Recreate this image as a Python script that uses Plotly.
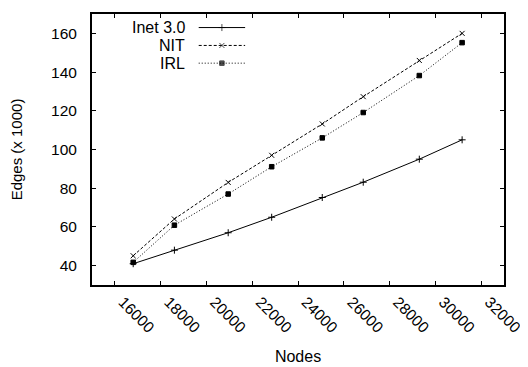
import plotly.graph_objects as go

nodes = [16800, 18600, 20950, 22850, 25060, 26850, 29300, 31170]
inet = [41, 48, 57, 65, 75.2, 83.1, 95, 105]
nit = [45.1, 64.1, 83, 97, 113.2, 127.3, 146, 160]
irl = [41.7, 60.9, 77, 91.1, 106, 119.1, 138.2, 155.2]

names = ["Inet 3.0", "NIT", "IRL"]
series = [inet, nit, irl]
dashes = ["solid", "3px,2px", "1px,2px"]
symbols = ["cross-thin-open", "x-thin-open", "square"]
msizes = [5, 5, 4.5]

x_ticks = list(range(16000, 32001, 2000))
y_ticks = list(range(40, 161, 20))

font = "Liberation Sans, Arial, sans-serif"
fig = go.Figure()

for name, ys, d, s, ms in zip(names, series, dashes, symbols, msizes):
    fig.add_trace(go.Scatter(
        x=nodes, y=ys, mode="lines+markers", name=name, showlegend=False,
        line=dict(color="black", width=1, dash=d),
        marker=dict(symbol=s, size=ms, color="black",
                    line=dict(color="black", width=1)),
    ))

# custom legend (text left, sample right) on a hidden overlay axis
leg_y = [0.950, 0.884, 0.8186]
for name, yy, d, s, ms in zip(names, leg_y, dashes, symbols, msizes):
    fig.add_trace(go.Scatter(
        x=[0.259, 0.3153, 0.3717], y=[yy, yy, yy], xaxis="x2", yaxis="y2",
        mode="lines+markers", showlegend=False, hoverinfo="skip",
        line=dict(color="black", width=1, dash=d),
        marker=dict(symbol=s, size=[0, ms, 0], color="black",
                    line=dict(color="black", width=1)),
    ))
    fig.add_annotation(x=0.2302, y=yy, xref="x2", yref="y2", text=name,
                       showarrow=False, xanchor="right", yanchor="middle",
                       font=dict(family=font, size=16, color="black"))

axis_common = dict(
    showline=True, linecolor="black", linewidth=2, mirror="ticks",
    ticks="inside", ticklen=4, tickwidth=1, tickcolor="black",
    showgrid=False, zeroline=False,
    tickfont=dict(family=font, size=15.5, color="black"),
)

fig.update_layout(
    width=520, height=359,
    margin=dict(l=84, r=19, t=4, b=81),
    paper_bgcolor="white", plot_bgcolor="white",
    xaxis=dict(range=[15000, 33000], tickvals=x_ticks,
               ticktext=[str(v) for v in x_ticks], tickangle=45,
               ticklabelshift=8, ticklabeloverflow="allow",
               title=dict(text="Nodes", font=dict(family=font, size=16, color="black"), standoff=16),
               **axis_common),
    yaxis=dict(range=[30, 170], tickvals=y_ticks,
               ticktext=[str(v) for v in y_ticks],
               title=dict(text="Edges (x 1000)", font=dict(family=font, size=15, color="black"), standoff=29),
               ticklabelstandoff=10,
               **axis_common),
    xaxis2=dict(range=[0, 1], overlaying="x", visible=False, fixedrange=True),
    yaxis2=dict(range=[0, 1], overlaying="y", visible=False, fixedrange=True),
)

fig.write_html("out.html")
